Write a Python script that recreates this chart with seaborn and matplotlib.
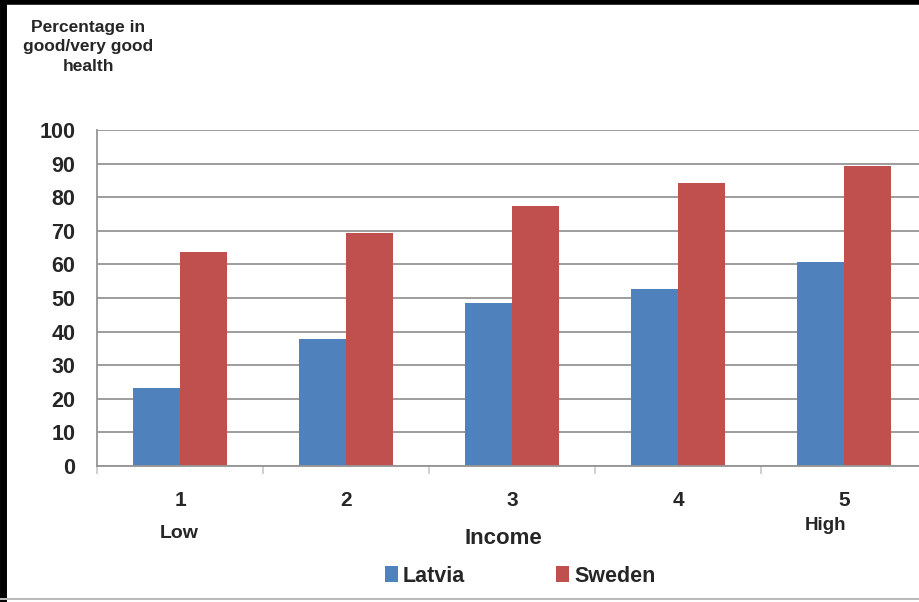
import matplotlib
matplotlib.use("Agg")
import matplotlib.pyplot as plt
import seaborn as sns
import pandas as pd
from matplotlib.lines import Line2D
from matplotlib.ticker import MultipleLocator

income = ["1", "2", "3", "4", "5"]
latvia = [23.3, 37.8, 48.5, 52.6, 60.6]
sweden = [63.8, 69.3, 77.4, 84.3, 89.4]
countries = ["Latvia", "Sweden"]
colors = ["#4F81BD", "#C0504D"]
yticks = [0, 10, 20, 30, 40, 50, 60, 70, 80, 90, 100]

df = pd.DataFrame({
    "Income": income * 2,
    "Country": ["Latvia"] * 5 + ["Sweden"] * 5,
    "Pct": latvia + sweden,
})

sns.set_theme(style="white")
plt.rcParams['font.family'] = ['Liberation Sans', 'DejaVu Sans']

fig = plt.figure(figsize=(9.19, 6.02), dpi=100)
ax = fig.add_axes([97/919, 1 - 466/602, 830/919, 336/602])

sns.barplot(data=df, x="Income", y="Pct", hue="Country", order=income,
            hue_order=countries, palette=colors, width=0.57, saturation=1,
            ax=ax, edgecolor="none")

ax.set_ylim(0, 100)
ax.set_xlim(-0.5, 4.5)
ax.set_yticks(yticks)
ax.yaxis.grid(True, color="#959595", linewidth=1.3)
ax.set_axisbelow(True)
for s in ["top", "right"]:
    ax.spines[s].set_visible(False)
for s in ["left", "bottom"]:
    ax.spines[s].set_color("#959595")
    ax.spines[s].set_linewidth(1.3)
ax.tick_params(axis="y", length=5, color="#959595", width=1.3, pad=10.5,
               labelsize=15.5)
ax.tick_params(axis="x", which="major", length=0, pad=18, labelsize=15)
ax.xaxis.set_minor_locator(MultipleLocator(1, offset=0.5))
ax.tick_params(axis="x", which="minor", length=6, color="#c8c8c8", width=1.2,
               direction="out", bottom=True)
for lab in ax.get_yticklabels() + ax.get_xticklabels():
    lab.set_fontweight("bold")
ax.set_xlabel("")
ax.set_ylabel("")

handles, labels = ax.get_legend_handles_labels()
ax.get_legend().remove()
fig.legend(handles, labels, loc="center", bbox_to_anchor=(520/919, 1 - 576/602),
           ncol=2, frameon=False, handlelength=0.6, handleheight=0.8,
           handletextpad=0.25, columnspacing=4.2,
           prop={"size": 15.5, "weight": "bold"})

fig.text(88/919, 1 - 47/602, "Percentage in\ngood/very good\nhealth", ha="center",
         va="center", fontsize=12.5, fontweight="bold", linespacing=1.4)
fig.text(179/919, 1 - 533/602, "Low", ha="center", va="center", fontsize=14,
         fontweight="bold")
fig.text(825/919, 1 - 525/602, "High", ha="center", va="center", fontsize=13.5,
         fontweight="bold")
fig.text(503/919, 1 - 539/602, "Income", ha="center", va="center", fontsize=16,
         fontweight="bold")

# frame lines
fig.add_artist(Line2D([3/919, 3/919], [0, 1], color="black", linewidth=5,
                      transform=fig.transFigure))
fig.add_artist(Line2D([0, 1], [1 - 2/602, 1 - 2/602], color="black", linewidth=4,
                      transform=fig.transFigure))
fig.add_artist(Line2D([0, 1], [1 - 599/602, 1 - 599/602], color="#bbbbbb",
                      linewidth=1.5, transform=fig.transFigure))

fig.savefig("out.png", dpi=100)
